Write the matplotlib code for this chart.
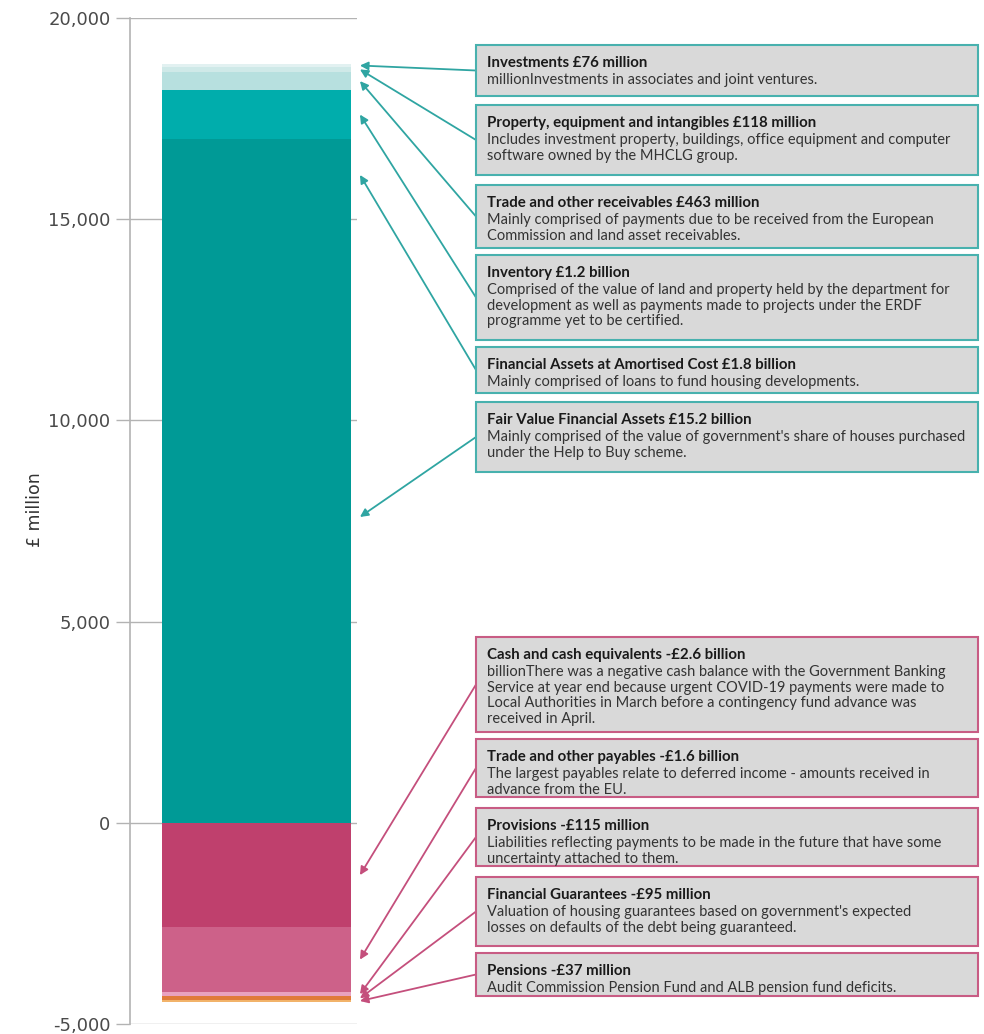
import matplotlib
matplotlib.use("Agg")
import matplotlib.pyplot as plt
from matplotlib.patches import Rectangle
from matplotlib.ticker import FuncFormatter

# Assets (bottom to top of the stack), £ million
asset_names = [
    "Fair Value Financial Assets £15.2 billion",
    "Financial Assets at Amortised Cost £1.8 billion",
    "Inventory £1.2 billion",
    "Trade and other receivables £463 million",
    "Property, equipment and intangibles £118 million",
    "Investments £76 million",
]
asset_values = [15200, 1800, 1200, 463, 118, 76]
asset_colors = ["#009a96", "#009a96", "#00adac", "#b7e0df", "#cfe9e8", "#e2f1f1"]
asset_notes = [
    "Mainly comprised of the value of government's share of houses purchased\nunder the Help to Buy scheme.",
    "Mainly comprised of loans to fund housing developments.",
    "Comprised of the value of land and property held by the department for\ndevelopment as well as payments made to projects under the ERDF\nprogramme yet to be certified.",
    "Mainly comprised of payments due to be received from the European\nCommission and land asset receivables.",
    "Includes investment property, buildings, office equipment and computer\nsoftware owned by the MHCLG group.",
    "millionInvestments in associates and joint ventures.",
]

# Liabilities (top to bottom of the stack), £ million
liab_names = [
    "Cash and cash equivalents -£2.6 billion",
    "Trade and other payables -£1.6 billion",
    "Provisions -£115 million",
    "Financial Guarantees -£95 million",
    "Pensions -£37 million",
]
liab_values = [-2600, -1600, -115, -95, -37]
liab_colors = ["#bf406d", "#cd6189", "#e9a1c1", "#e07a3c", "#f2b36a"]
liab_notes = [
    "billionThere was a negative cash balance with the Government Banking\nService at year end because urgent COVID-19 payments were made to\nLocal Authorities in March before a contingency fund advance was\nreceived in April.",
    "The largest payables relate to deferred income - amounts received in\nadvance from the EU.",
    "Liabilities reflecting payments to be made in the future that have some\nuncertainty attached to them.",
    "Valuation of housing guarantees based on government's expected\nlosses on defaults of the debt being guaranteed.",
    "Audit Commission Pension Fund and ALB pension fund deficits.",
]

y_ticks = [-5000, 0, 5000, 10000, 15000, 20000]

W, H = 984, 1034
fig = plt.figure(figsize=(W / 100, H / 100), dpi=100)
fig.patch.set_facecolor("white")

# axes area in pixels (left, top, right, bottom)
ax_l, ax_t, ax_r, ax_b = 130, 18, 357, 1024
ax = fig.add_axes([ax_l / W, 1 - ax_b / H, (ax_r - ax_l) / W, (ax_b - ax_t) / H])
ax.set_xlim(0, 1)
ax.set_ylim(-5000, 20000)

grid_c = "#b3b3b3"
ax.set_yticks(y_ticks)
ax.yaxis.set_major_formatter(FuncFormatter(lambda v, p: f"{int(v):,}"))
ax.tick_params(axis="y", length=10, width=1, color=grid_c, labelsize=13,
               labelcolor="#4a4a4a", pad=4)
ax.set_xticks([])
for s in ["top", "right", "bottom"]:
    ax.spines[s].set_visible(False)
ax.spines["left"].set_color(grid_c)
ax.spines["left"].set_linewidth(1.2)
ax.yaxis.grid(True, color=grid_c, linewidth=1)
ax.set_axisbelow(True)
fig.text(35 / W, 1 - 510 / H, "£ million", rotation=90, fontsize=12.5, color="#333333",
         ha="center", va="center", fontfamily="Liberation Sans Narrow")

bar_x, bar_w = 0.557, 0.833

# stacked asset segments
asset_mids = []
base = 0
for v, c in zip(asset_values, asset_colors):
    ax.bar(bar_x, v, bottom=base, width=bar_w, color=c, linewidth=0, zorder=2)
    asset_mids.append(base + v / 2)
    base += v

# stacked liability segments
liab_mids = []
base = 0
for v, c in zip(liab_values, liab_colors):
    ax.bar(bar_x, v, bottom=base, width=bar_w, color=c, linewidth=0, zorder=2)
    liab_mids.append(base + v / 2)
    base += v

# annotation boxes (pixel layout: top edge and height of each box)
box_l, box_r = 476, 978
line_h = 17
teal_edge, teal_arrow = "#48b1ae", "#2fa5a2"
pink_edge, pink_arrow = "#c85c84", "#c44f7c"
asset_box_tops = [45, 105, 185, 255, 347, 402]
asset_box_heights = [51, 70, 63, 85, 46, 70]
liab_box_tops = [637, 739, 808, 877, 953]
liab_box_heights = [95, 58, 58, 69, 43]


def draw_group(names, notes, mids, tops, heights, edge, arrow_c):
    for name, note, mid, y, h in zip(names, notes, mids, tops, heights):
        fig.patches.append(Rectangle((box_l / W, 1 - (y + h) / H), (box_r - box_l) / W, h / H,
                                     transform=fig.transFigure, facecolor="#d9d9d9",
                                     edgecolor=edge, linewidth=1.5, zorder=1))
        fig.text((box_l + 11) / W, 1 - (y + 11) / H, name, fontsize=10.8, fontweight="bold",
                 color="#1a1a1a", va="top", ha="left", fontfamily="Lato")
        fig.text((box_l + 11) / W, 1 - (y + 11 + line_h) / H, note, fontsize=10.5,
                 color="#333333", va="top", ha="left", fontfamily="Lato", linespacing=1.15)
        ax.annotate("", xy=(1.013, mid), xycoords=("axes fraction", "data"),
                    xytext=(box_l, H - (y + h / 2)), textcoords="figure pixels",
                    arrowprops=dict(arrowstyle="-|>", color=arrow_c, lw=1.3,
                                    mutation_scale=12, shrinkA=0, shrinkB=0),
                    annotation_clip=False)


draw_group(asset_names[::-1], asset_notes[::-1], asset_mids[::-1],
           asset_box_tops, asset_box_heights, teal_edge, teal_arrow)
draw_group(liab_names, liab_notes, liab_mids,
           liab_box_tops, liab_box_heights, pink_edge, pink_arrow)

fig.savefig("out.png", dpi=100)
